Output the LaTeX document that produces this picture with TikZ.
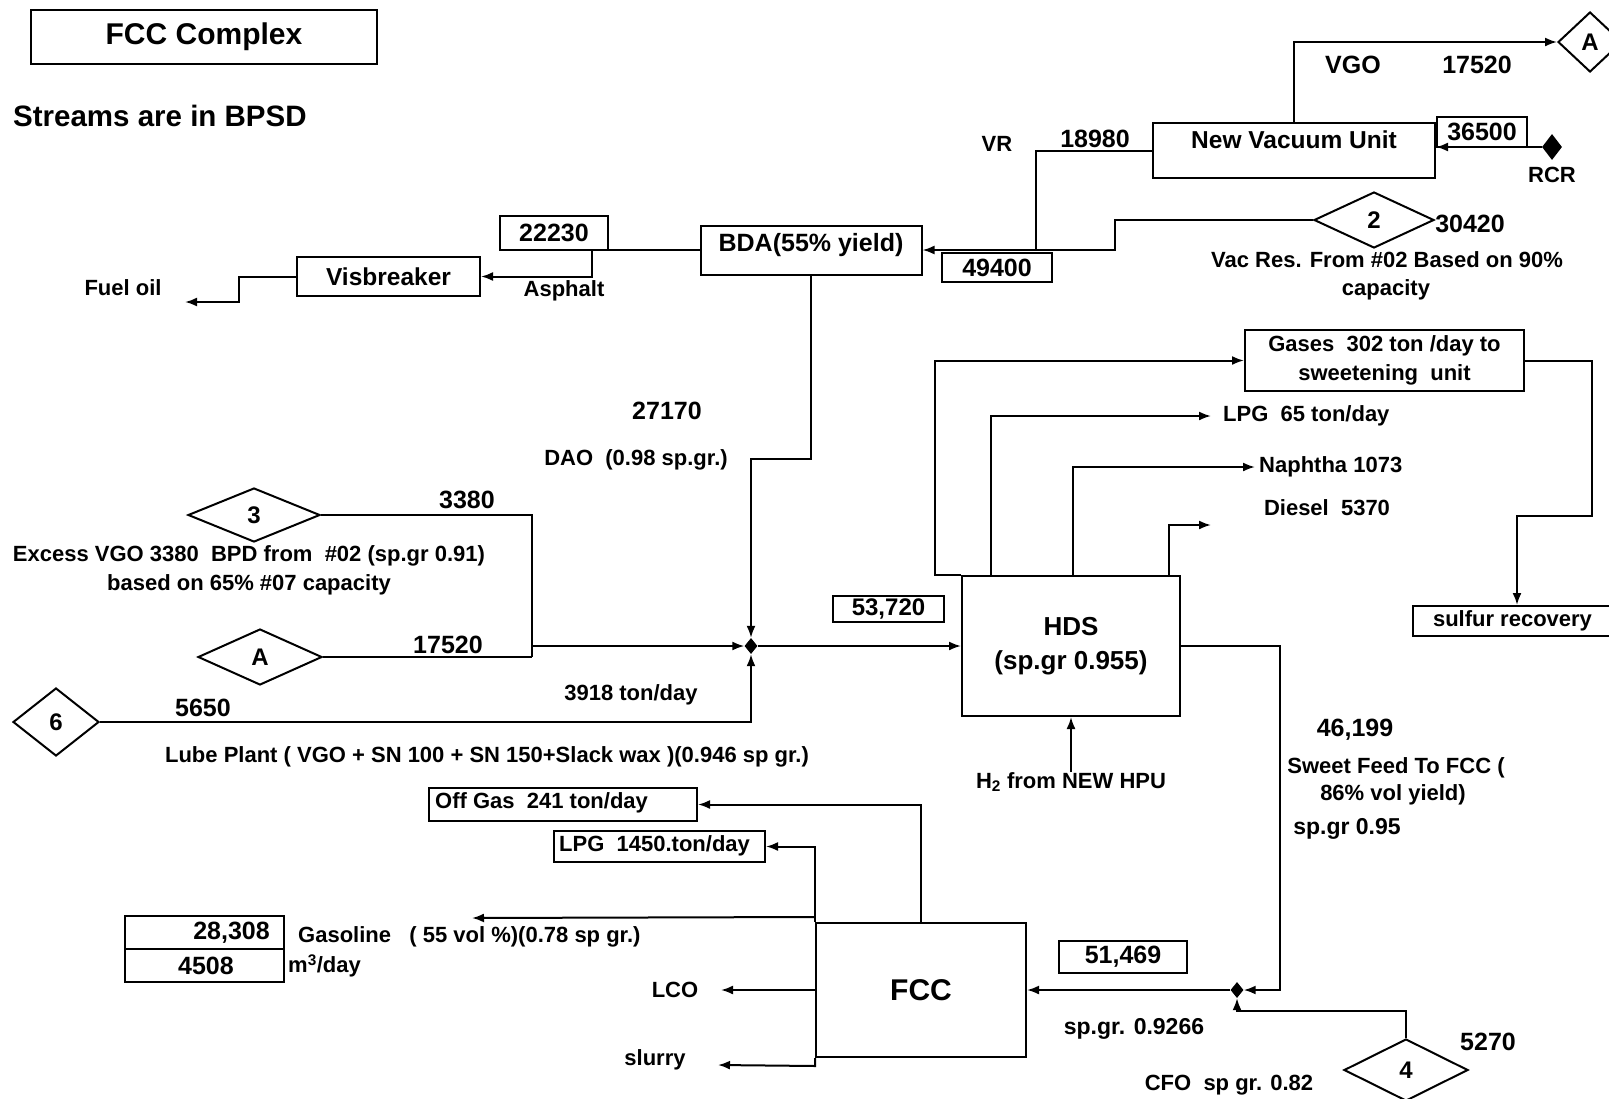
\documentclass[tikz,border=0pt]{standalone}
\usepackage{fontspec}
\setmainfont{Liberation Sans}
\usetikzlibrary{shapes.geometric,arrows.meta,calc}
\begin{document}
\begin{tikzpicture}[x=1pt,y=-1pt,
  >={Latex[length=12pt,width=9pt]},
  lab/.style={font=\bfseries\fontsize{22}{29}\selectfont, inner sep=0pt},
  big/.style={font=\bfseries\fontsize{25}{30}\selectfont, inner sep=0pt},
  box/.style={draw, line width=2pt, inner sep=0pt},
  dia/.style={diamond, draw, line width=2pt, inner sep=0pt, font=\bfseries\fontsize{24}{28}\selectfont},
  jn/.style={diamond, fill, inner sep=0pt, minimum width=13pt, minimum height=16pt},
  flow/.style={line width=2pt}]
\useasboundingbox (0,0) rectangle (1609,1098);
\fill[white] (0,0) rectangle (1609,1098);

% title
\node[box, line width=2.2pt, minimum width=346pt, minimum height=54pt, font=\bfseries\fontsize{30}{34}\selectfont] (title) at (204,37) {FCC Complex};
\node[font=\bfseries\fontsize{29.5}{34}\selectfont, inner sep=0pt, anchor=west] (streams) at (13,116) {Streams are in BPSD};

% vacuum unit
\node[box, minimum width=282pt, minimum height=55pt] (nvu) at (1294,150.5) {};
\node[font=\bfseries\fontsize{24.5}{28}\selectfont, inner sep=0pt] (nvut) at (1294,140) {New Vacuum Unit};
\node[box, big, minimum width=90pt, minimum height=30pt] (b36500) at (1482,132) {36500};
\node[jn, minimum width=20pt, minimum height=26pt] (rcr) at (1552,147) {};
\node[lab] (rcrt) at (1552,175) {RCR};
\node[dia, minimum width=64pt, minimum height=60pt] (dAt) at (1590,42) {A};
\node[big] (vgot) at (1353,65) {VGO};
\node[big] (v17520) at (1477,65) {17520};
\draw[flow,->] (nvu.north) |- (dAt.west);
\draw[flow,->] (rcr.west) -- (nvu.east |- rcr.west);

\node[lab] (vrt) at (997,144) {VR};
\node[big] (t18980) at (1095,139) {18980};
\coordinate (vrj) at (1036,250);
\draw[flow] (nvu.west) -| (vrj);

% BDA
\node[box, minimum width=221pt, minimum height=49pt] (bda) at (811,250) {};
\node[big] (bdat) at (811,245) {BDA(55\% yield)};
\node[dia, minimum width=120pt, minimum height=56pt] (d2) at (1374,220) {2};
\coordinate (j49) at (1115,250);
\draw[flow,->] (d2.west) -| (j49) -- (bda.east);
\node[box, big, minimum width=110pt, minimum height=29pt] (b49400) at (997,267.5) {49400};
\node[big] (t30420) at (1470,224) {30420};
\node[lab] (vact) at (1387,260) {Vac Res. From \#02 Based on 90\%};
\node[lab] (capt) at (1386,290) {capacity};

% asphalt / visbreaker
\node[box, big, minimum width=108pt, minimum height=34pt] (b22230) at (554,233) {22230};
\node[box, minimum width=183pt, minimum height=39pt, font=\bfseries\fontsize{24.5}{28}\selectfont] (vis) at (388.5,276.5) {Visbreaker};
\coordinate (aspc) at (592,276.5);
\draw[flow,->] (bda.west) -| (aspc) -- (vis.east);
\node[lab] (aspt) at (564,291) {Asphalt};
\coordinate (fo1) at (239,302);
\coordinate (fo) at (185,302);
\draw[flow,->] (vis.west) -| (fo1) -- (fo);
\node[lab] (fuelt) at (123,288) {Fuel oil};

% DAO and feeds
\node[jn] (jct) at (751,646) {};
\coordinate (daoc) at (751,459);
\draw[flow,->] (bda.south) |- (daoc) -- (jct.north);
\node[big] (t27170) at (667,411) {27170};
\node[lab] (daot) at (636,460) {DAO~~(0.98 sp.gr.)};

\node[dia, minimum width=132pt, minimum height=54pt] (d3) at (254,515) {3};
\node[dia, minimum width=124pt, minimum height=56pt] (dA) at (260,657) {A};
\node[dia, minimum width=86pt, minimum height=68pt] (d6) at (56,722) {6};
\coordinate (c3) at (532,657);
\coordinate (c3m) at (532,646);
\draw[flow] (d3.east) -| (c3);
\draw[flow] (dA.east) -- (c3);
\draw[flow,->] (c3m) -- (jct.west);
\draw[flow,->] (d6.east) -| (jct.south);
\node[big] (t3380) at (467,500) {3380};
\node[lab] (exct) at (249,556) {Excess VGO 3380~~BPD from~~\#02 (sp.gr 0.91)};
\node[lab] (bast) at (249,585) {based on 65\% \#07 capacity};
\node[big] (t17520) at (448,645) {17520};
\node[big] (t5650) at (203,708) {5650};
\node[lab] (t3918) at (631,695) {3918 ton/day};
\node[lab] (lubet) at (487,757) {Lube Plant ( VGO + SN 100 + SN 150+Slack wax )(0.946 sp gr.)};

% HDS
\node[box, minimum width=218pt, minimum height=140pt, align=center, font=\bfseries\fontsize{26}{34}\selectfont] (hds) at (1071,646) {HDS\\(sp.gr 0.955)};
\draw[flow,->] (jct.east) -- (hds.west);
\node[box, minimum width=111pt, minimum height=26pt, inner sep=0pt, font=\bfseries\fontsize{24}{28}\selectfont] (b53720) at (888.5,609) {53,720};
\node[lab, anchor=north] (h2t) at (1071,772) {H\textsubscript{2} from NEW HPU};
\draw[flow,->] (h2t.north) -- (hds.south);

\node[box, lab, minimum width=279pt, minimum height=61pt, align=center] (gases) at (1384.5,360.5) {Gases~~302 ton /day to\\sweetening~~unit};
\draw[flow,->] (hds.north west) -- ++(-26,0) |- (gases.west);
\node[lab, anchor=west] (lpgt) at (1223,416) {LPG~~65 ton/day};
\draw[flow,->] ([xshift=30pt]hds.north west) |- ([xshift=-12pt]lpgt.west);
\node[lab, anchor=west] (napt) at (1259,467) {Naphtha 1073};
\draw[flow,->] ([xshift=112pt]hds.north west) |- ([xshift=-4pt]napt.west);
\node[lab] (dslt) at (1327,508) {Diesel~~5370};
\coordinate (dsl) at (1211,525);
\draw[flow,->] ([xshift=208pt]hds.north west) |- (dsl);

\node[box, lab, minimum width=199pt, minimum height=30pt] (sulf) at (1512.5,621) {sulfur recovery};
\coordinate (gs1) at (1592,516);
\coordinate (gs2) at (1517,516);
\draw[flow,->] (gases.east) -| (gs1) -- (gs2) -- (gs2 |- sulf.north);

% FCC
\node[box, minimum width=210pt, minimum height=134pt, font=\bfseries\fontsize{30}{34}\selectfont] (fcc) at (921,990) {FCC};
\node[jn] (j2) at (1237,990) {};
\coordinate (hf) at (1280,990);
\draw[flow,->] (hds.east) -| (hf) -- (j2.east);
\draw[flow,->] (j2.west) -- (fcc.east);
\node[dia, minimum width=124pt, minimum height=62pt] (d4) at (1406,1070) {4};
\coordinate (c4) at (1237,1011);
\draw[flow,->] (d4.north) |- (c4) -- (j2.south);
\node[box, big, minimum width=128pt, minimum height=32pt] (b51469) at (1123,957) {51,469};
\node[big] (t46199) at (1355,730) {46,199};
\node[lab] (swt1) at (1396,768) {Sweet Feed To FCC (};
\node[lab] (swt2) at (1393,795) {86\% vol yield)};
\node[lab, font=\bfseries\fontsize{23}{28}\selectfont] (spg95) at (1347,829) {sp.gr 0.95};
\node[lab, font=\bfseries\fontsize{23}{28}\selectfont] (spg9266) at (1134,1029) {sp.gr. 0.9266};
\node[big] (t5270) at (1488,1042) {5270};
\node[lab] (cfot) at (1229,1085) {CFO~~sp gr. 0.82};

% FCC products
\node[box, minimum width=268pt, minimum height=33pt] (offg) at (563,804.5) {};
\node[lab, anchor=west] (offgt) at (435,803) {Off Gas~~241 ton/day};
\draw[flow,->] (fcc.north) |- (offg.east);
\node[box, minimum width=211pt, minimum height=31pt] (lpgb) at (659.5,846.5) {};
\node[lab, anchor=west] (lpgbt) at (559,846) {LPG~~1450.ton/day};
\draw[flow,->] (fcc.north west) |- (lpgb.east);
\coordinate (gasa) at (472,918);
\draw[flow,->] ([yshift=5pt]fcc.north west) -- (gasa);
\node[lab, anchor=west] (gasot) at (298,937) {Gasoline~~~( 55 vol \%)(0.78 sp gr.)};
\node[box, minimum width=159pt, minimum height=33pt] (g1) at (204.5,932.5) {};
\node[big, anchor=east] (g1t) at (270,933) {28,308};
\node[box, minimum width=159pt, minimum height=33pt] (g2) at (204.5,965.5) {};
\node[big] (g2t) at (206,966) {4508};
\node[lab, anchor=west] (m3t) at (288,966) {m\textsuperscript{3}/day};
\coordinate (lcoa) at (721,990);
\draw[flow,->] (fcc.west) -- (lcoa);
\node[lab] (lcot) at (675,990) {LCO};
\coordinate (slua) at (718,1065);
\draw[flow,->] (fcc.south west) -- ++(0,8) -- (slua);
\node[lab] (slut) at (655,1060) {slurry};
\end{tikzpicture}
\end{document}
